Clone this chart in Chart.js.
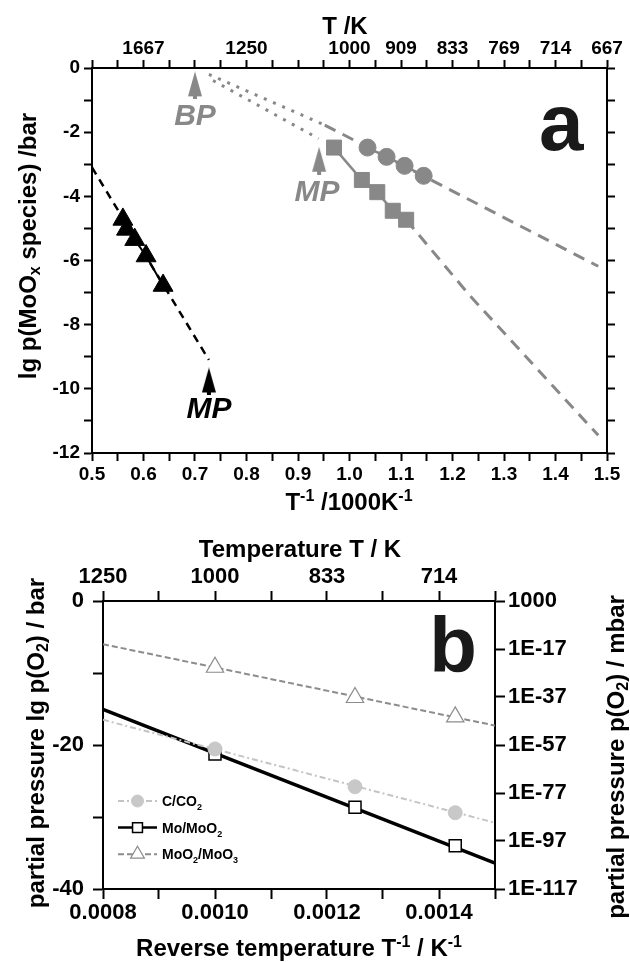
<!DOCTYPE html>
<html>
<head>
<meta charset="utf-8">
<title>MoOx vapour pressure / p(O2) diagrams</title>
<script src="https://cdn.jsdelivr.net/npm/chart.js@4.4.1/dist/chart.umd.min.js"></script>
<style>
  body { margin: 0; background: #fff; }
  canvas { position: absolute; left: 0; }
  #chartA { top: 0; }
  #chartB { top: 525px; }
</style>
</head>
<body>
<canvas id="chartA" width="630" height="525"></canvas>
<canvas id="chartB" width="630" height="437"></canvas>
<script>
const FONT = "'Liberation Sans', Arial, sans-serif";
const GRAY = '#888888';

// ---- panel a : lg p(MoOx) against 1000/T
const triX = [0.560, 0.567, 0.583, 0.605, 0.638];
const triY = [-4.72, -5.03, -5.35, -5.86, -6.78];
const triFitX = [0.500, 0.727];
const triFitY = [-3.10, -9.10];
const sqX = [0.970, 1.024, 1.054, 1.084, 1.110];
const sqY = [-2.48, -3.49, -3.87, -4.45, -4.73];
const sqFitX = [1.110, 1.234, 1.483];
const sqFitY = [-4.73, -7.10, -11.45];
const circX = [1.035, 1.072, 1.107, 1.144];
const circY = [-2.48, -2.77, -3.05, -3.36];
const circFitX = [0.952, 1.483];
const circFitY = [-1.78, -6.18];
const dotUpX = [0.727, 0.952];
const dotUpY = [-0.20, -1.78];
const dotLowX = [0.735, 0.940];
const dotLowY = [-0.39, -2.20];
const arrowX = [0.700, 0.941, 0.727];
const arrowY = [-0.54, -2.89, -9.77];
const topTickPosA = [0.6, 0.8, 1.0, 1.1, 1.2, 1.3, 1.4, 1.5];
const topTickLabelsA = ['1667', '1250', '1000', '909', '833', '769', '714', '667'];

// ---- panel b : lg p(O2) against 1/T
const invT = [0.0010, 0.00125, 0.001429];
const cco2Y = [-20.55, -25.8, -29.4];
const moY = [-21.25, -28.65, -34.0];
const moo3Y = [-9.2, -13.4, -16.1];
const fitX = [0.0008, 0.0015];
const cco2FitY = [-16.5, -30.8];
const moFitY = [-15.05, -36.4];
const moo3FitY = [-6.0, -17.3];
const topTickPosB = [0.0008, 0.0010, 0.0012, 0.0014];
const topTickLabelsB = ['1250', '1000', '833', '714'];
const rightTickPosB = [0, -6.67, -13.33, -20, -26.67, -33.33, -40];
const rightTickLabelsB = ['1000', '1E-17', '1E-37', '1E-57', '1E-77', '1E-97', '1E-117'];

const pts = (xs, ys) => xs.map((x, i) => ({ x, y: ys[i] }));
const near = (a, b) => Math.abs(a - b) < 1e-9;
const isMult = (v, step) => Math.abs(v / step - Math.round(v / step)) < 1e-6;
const labelFrom = (pos, labels) => v => {
  const i = pos.findIndex(p => near(p, v));
  return i < 0 ? '' : labels[i];
};

// tall narrow arrow used for the BP / MP markers
function arrowImage(color) {
  const c = document.createElement('canvas');
  c.width = 16; c.height = 28;
  const g = c.getContext('2d');
  g.fillStyle = color;
  g.beginPath();
  g.moveTo(8, 0); g.lineTo(15, 25); g.lineTo(1, 25); g.closePath();
  g.fill();
  g.fillRect(6, 24, 4, 4);
  return c;
}

// text with sub / superscripts, centred on (x, y)
function richText(ctx, parts, x, y, size, rot, color) {
  ctx.save();
  ctx.translate(x, y);
  ctx.rotate(rot || 0);
  ctx.fillStyle = color || '#000';
  ctx.textAlign = 'left';
  ctx.textBaseline = 'alphabetic';
  const fontFor = m => `bold ${m ? Math.round(size * 0.65) : size}px ${FONT}`;
  let w = 0;
  parts.forEach(([t, m]) => { ctx.font = fontFor(m); w += ctx.measureText(t).width; });
  let cx = -w / 2;
  parts.forEach(([t, m]) => {
    ctx.font = fontFor(m);
    const dy = m === 1 ? -size * 0.36 : m === -1 ? size * 0.2 : 0;
    ctx.fillText(t, cx, size * 0.36 + dy);
    cx += ctx.measureText(t).width;
  });
  ctx.restore();
}

const titles = {
  id: 'titles',
  afterDraw(chart, args, opts) {
    (opts.items || []).forEach(t => richText(chart.ctx, t.parts, t.x, t.y, t.size, t.rot));
  }
};

const notes = {
  id: 'notes',
  afterDatasetsDraw(chart, args, opts) {
    const { ctx, scales: { x, y } } = chart;
    (opts.items || []).forEach(n => {
      ctx.save();
      ctx.font = `${n.italic ? 'italic ' : ''}bold ${n.size}px ${FONT}`;
      ctx.fillStyle = n.color;
      ctx.textAlign = 'center';
      ctx.textBaseline = n.baseline || 'middle';
      ctx.fillText(n.text, x.getPixelForValue(n.x), y.getPixelForValue(n.y));
      ctx.restore();
    });
  }
};

const insideLegend = {
  id: 'insideLegend',
  afterDatasetsDraw(chart, args, opts) {
    if (!opts.rows) return;
    const { ctx, chartArea } = chart;
    const ds = chart.data.datasets;
    opts.rows.forEach((r, i) => {
      const yy = chartArea.top + opts.y0 + i * opts.dy;
      const x0 = chartArea.left + opts.x0, x1 = chartArea.left + opts.x1;
      const L = ds[r.line];
      ctx.save();
      ctx.strokeStyle = L.borderColor;
      ctx.lineWidth = Math.min(L.borderWidth, 2.5);
      ctx.setLineDash(L.borderDash || []);
      ctx.beginPath(); ctx.moveTo(x0, yy); ctx.lineTo(x1, yy); ctx.stroke();
      ctx.restore();
      const M = ds[r.marker];
      ctx.save();
      ctx.fillStyle = M.pointBackgroundColor;
      ctx.strokeStyle = M.pointBorderColor;
      ctx.lineWidth = M.pointBorderWidth;
      Chart.helpers.drawPoint(ctx, { pointStyle: M.pointStyle, radius: r.r, borderWidth: M.pointBorderWidth, rotation: 0 }, (x0 + x1) / 2, yy);
      ctx.restore();
      ctx.save();
      let cx = chartArea.left + opts.tx;
      ctx.fillStyle = '#000';
      ctx.textBaseline = 'alphabetic';
      r.parts.forEach(([t, m]) => {
        ctx.font = `bold ${m ? 9 : 14}px ${FONT}`;
        ctx.fillText(t, cx, yy + 5 + (m === -1 ? 4 : 0));
        cx += ctx.measureText(t).width;
      });
      ctx.restore();
    });
  }
};

const lineDs = (xs, ys, color, width, dash) => ({
  data: pts(xs, ys), showLine: true, borderColor: color, borderWidth: width,
  borderDash: dash || [], pointRadius: 0, fill: false, tension: 0
});

function axis(position, min, max, step, size, tl, pad, extent, callback) {
  const horiz = position === 'top' || position === 'bottom';
  return {
    type: 'linear', position, min, max,
    ticks: { stepSize: step, autoSkip: false, maxRotation: 0, padding: pad, color: '#000',
             display: !!callback, font: { family: FONT, size, weight: 'bold' }, callback: callback || (() => '') },
    grid: { drawOnChartArea: false, tickLength: tl, tickWidth: 2, color: '#000' },
    border: { color: '#000', width: 2 },
    afterFit: s => { if (horiz) s.height = extent; else s.width = extent; }
  };
}

const baseOptions = {
  responsive: false,
  animation: false,
  layout: { padding: 0 },
  events: []
};

// ---------- chart a
new Chart(document.getElementById('chartA'), {
  type: 'scatter',
  data: {
    datasets: [
      { data: pts(arrowX, arrowY), pointStyle: [arrowImage(GRAY), arrowImage(GRAY), arrowImage('#000')], pointRadius: 5 },
      { data: pts(triX, triY), showLine: true, borderColor: '#000', borderWidth: 2, pointStyle: 'triangle',
        pointRadius: 11.5, pointBackgroundColor: '#000', pointBorderColor: '#000', pointBorderWidth: 1 },
      { data: pts(sqX, sqY), showLine: true, borderColor: GRAY, borderWidth: 2.5, pointStyle: 'rect',
        pointRadius: 10.6, pointBackgroundColor: GRAY, pointBorderColor: GRAY, pointBorderWidth: 1 },
      { data: pts(circX, circY), showLine: true, borderColor: GRAY, borderWidth: 2.5, pointStyle: 'circle',
        pointRadius: 8.5, pointBackgroundColor: GRAY, pointBorderColor: GRAY, pointBorderWidth: 1 },
      lineDs(triFitX, triFitY, '#000', 2.5, [8, 6]),
      lineDs(sqFitX, sqFitY, GRAY, 3, [12, 8]),
      lineDs(circFitX, circFitY, GRAY, 3, [12, 8]),
      lineDs(dotUpX, dotUpY, GRAY, 3, [3, 7]),
      lineDs(dotLowX, dotLowY, GRAY, 3, [3, 7])
    ]
  },
  options: {
    ...baseOptions,
    scales: {
      x: axis('bottom', 0.5, 1.5, 0.05, 19, 8, 2, 72, v => isMult(v, 0.1) ? v.toFixed(1) : ''),
      x2: axis('top', 0.5, 1.5, 0.05, 19, 8, 0, 68, labelFrom(topTickPosA, topTickLabelsA)),
      y: axis('left', -12, 0, 1, 19, 8, 4, 92, v => isMult(v, 2) ? String(v) : ''),
      y2: axis('right', -12, 0, 1, 19, 8, 4, 23, null)
    },
    plugins: {
      legend: { display: false },
      tooltip: { enabled: false },
      titles: { items: [
        { parts: [['T /K', 0]], x: 345, y: 25, size: 24 },
        { parts: [['T', 0], ['-1', 1], [' /1000K', 0], ['-1', 1]], x: 349, y: 501, size: 24 },
        { parts: [['lg p(MoO', 0], ['x', -1], [' species) /bar', 0]], x: 27, y: 246, size: 24, rot: -Math.PI / 2 }
      ] },
      notes: { items: [
        { text: 'BP', x: 0.700, y: -1.53, size: 30, italic: true, color: GRAY },
        { text: 'MP', x: 0.937, y: -3.89, size: 30, italic: true, color: GRAY },
        { text: 'MP', x: 0.727, y: -10.65, size: 30, italic: true, color: '#000' },
        { text: 'a', x: 1.411, y: -2.55, size: 80, color: '#1a1a1a', baseline: 'alphabetic' }
      ] }
    }
  },
  plugins: [titles, notes]
});

// ---------- chart b
new Chart(document.getElementById('chartB'), {
  type: 'scatter',
  data: {
    datasets: [
      { data: pts(invT, cco2Y), pointStyle: 'circle', pointRadius: 7,
        pointBackgroundColor: '#c8c8c8', pointBorderColor: '#c8c8c8', pointBorderWidth: 1 },
      { data: pts(invT, moY), pointStyle: 'rect', pointRadius: 8.5,
        pointBackgroundColor: '#fff', pointBorderColor: '#000', pointBorderWidth: 1.5 },
      { data: pts(invT, moo3Y), pointStyle: 'triangle', pointRadius: 10,
        pointBackgroundColor: '#fff', pointBorderColor: '#8c8c8c', pointBorderWidth: 1.2 },
      lineDs(fitX, cco2FitY, '#c4c4c4', 2, [6, 3, 2, 3]),
      lineDs(fitX, moFitY, '#000', 3.5),
      lineDs(fitX, moo3FitY, '#8c8c8c', 2, [6, 3])
    ]
  },
  options: {
    ...baseOptions,
    scales: {
      x: axis('bottom', 0.0008, 0.0015, 0.0001, 22, 10, 1, 73, v => isMult(v, 0.0002) ? v.toFixed(4) : ''),
      x2: axis('top', 0.0008, 0.0015, 0.0001, 22, 10, 1, 76, labelFrom(topTickPosB, topTickLabelsB)),
      y: axis('left', -40, 0, 10, 22, 10, 9, 103, v => isMult(v, 20) ? String(v) : ''),
      y2: Object.assign(axis('right', -40, 0, 10, 22, 10, 3, 135, labelFrom(rightTickPosB, rightTickLabelsB)), {
        afterBuildTicks: s => { s.ticks = rightTickPosB.map(value => ({ value })); }
      })
    },
    plugins: {
      legend: { display: false },
      tooltip: { enabled: false },
      titles: { items: [
        { parts: [['Temperature T / K', 0]], x: 300, y: 23, size: 24 },
        { parts: [['Reverse temperature T', 0], ['-1', 1], [' / K', 0], ['-1', 1]], x: 299, y: 422, size: 24 },
        { parts: [['partial pressure lg p(O', 0], ['2', -1], [') / bar', 0]], x: 35, y: 218, size: 24, rot: -Math.PI / 2 },
        { parts: [['partial pressure p(O', 0], ['2', -1], [') / mbar', 0]], x: 615, y: 232, size: 24, rot: -Math.PI / 2 }
      ] },
      notes: { items: [
        { text: 'b', x: 0.001425, y: -9.86, size: 78, color: '#1a1a1a', baseline: 'alphabetic' }
      ] },
      insideLegend: {
        x0: 15, x1: 54, tx: 59, y0: 200, dy: 26.6,
        rows: [
          { parts: [['C/CO', 0], ['2', -1]], line: 3, marker: 0, r: 6 },
          { parts: [['Mo/MoO', 0], ['2', -1]], line: 4, marker: 1, r: 7 },
          { parts: [['MoO', 0], ['2', -1], ['/MoO', 0], ['3', -1]], line: 5, marker: 2, r: 8 }
        ]
      }
    }
  },
  plugins: [titles, notes, insideLegend]
});
</script>
</body>
</html>
